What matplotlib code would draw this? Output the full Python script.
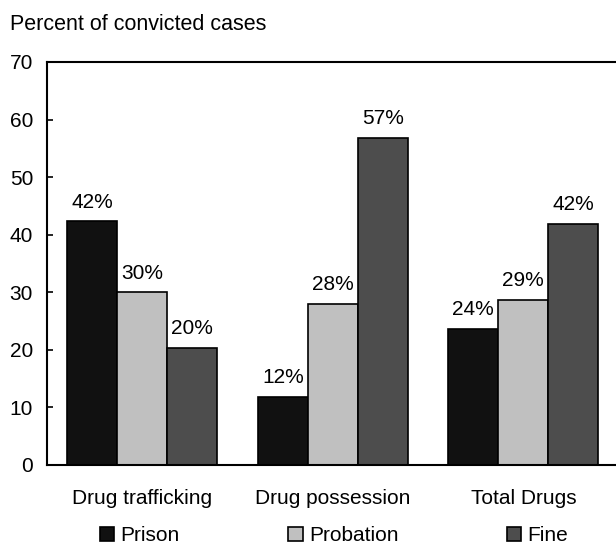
import matplotlib.pyplot as plt
import numpy as np

plt.rcParams['font.family'] = ['Liberation Sans', 'DejaVu Sans']

# data
categories = ["Drug trafficking", "Drug possession", "Total Drugs"]
series = ["Prison", "Probation", "Fine"]
prison = [42.3, 11.8, 23.6]
probation = [30.0, 28.0, 28.7]
fine = [20.4, 56.8, 41.9]
prison_lbl = ["42%", "12%", "24%"]
probation_lbl = ["30%", "28%", "29%"]
fine_lbl = ["20%", "57%", "42%"]
colors = ["#111111", "#c0c0c0", "#4d4d4d"]

fs = 15

fig = plt.figure(figsize=(6.16, 5.48), dpi=100)
ax = fig.add_axes([0.0763, 0.1515, 0.928, 0.7354])

x = np.arange(len(categories))
w = 0.2625
vals = [prison, probation, fine]
lbls = [prison_lbl, probation_lbl, fine_lbl]
for i in range(3):
    bars = ax.bar(x + (i - 1) * w, vals[i], w, color=colors[i],
                  edgecolor="black", linewidth=1.2, label=series[i])
    ax.bar_label(bars, labels=lbls[i], padding=7, fontsize=fs)

ax.set_xlim(-0.5, 2.5)
ax.set_ylim(0, 70)
ax.set_yticks(range(0, 71, 10))
ax.set_xticks(x)
ax.set_xticklabels(categories)
ax.tick_params(axis="y", direction="in", length=4, width=1.2, pad=10, labelsize=fs)
ax.tick_params(axis="x", length=0, pad=17, labelsize=fs)
for s in ["left", "bottom", "top"]:
    ax.spines[s].set_linewidth(1.5)
ax.spines["right"].set_visible(False)

fig.text(10 / 616, 1 - 30 / 548, "Percent of convicted cases", fontsize=15.5, va="baseline")

fig.legend(loc="lower left", bbox_to_anchor=(85 / 616, -0.022), ncol=3, frameon=False,
           fontsize=fs, handlelength=0.7, handleheight=0.7, handletextpad=0.3,
           columnspacing=5.2, borderpad=0.2)

fig.savefig("out.png", dpi=100)
